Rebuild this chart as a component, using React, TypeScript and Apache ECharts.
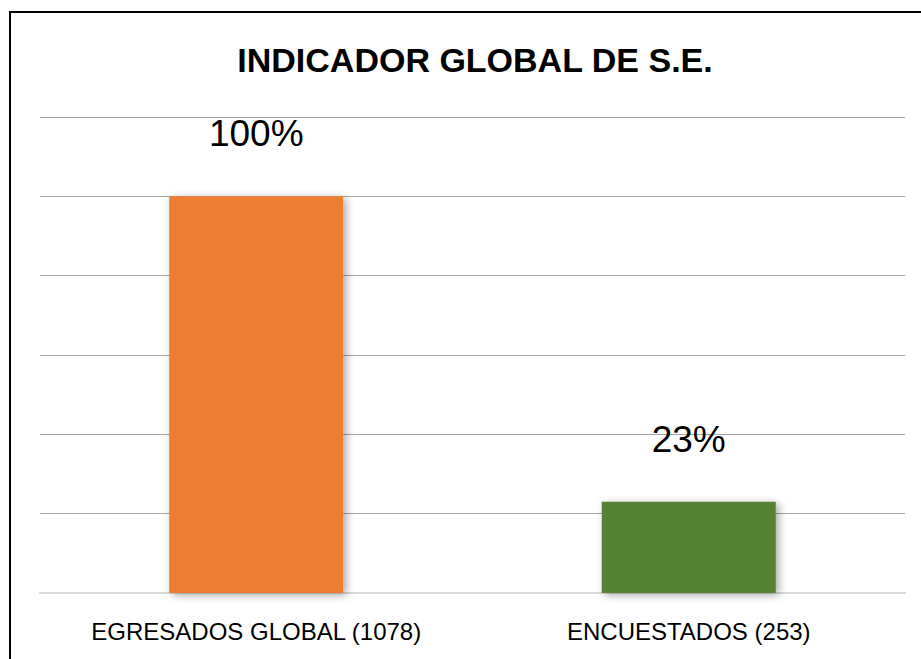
import React, { useEffect, useRef } from "react";
import * as echarts from "echarts";

const titleText = "INDICADOR GLOBAL DE S.E.";
const categories = ["EGRESADOS GLOBAL (1078)", "ENCUESTADOS (253)"];
const values = [1.0, 0.23];
const barColors = ["#ED7D31", "#548235"];
const yMin = 0;
const yMax = 1.2;
const yInterval = 0.2;

const FONT = "'Liberation Sans', Arial, sans-serif";

export default function App() {
  const ref = useRef<HTMLDivElement>(null);

  useEffect(() => {
    if (!ref.current) return;
    const chart = echarts.init(ref.current, null, { renderer: "svg" });
    chart.setOption({
      animation: false,
      backgroundColor: "#ffffff",
      title: {
        text: titleText,
        left: 470,
        top: 38,
        textAlign: "center",
        textStyle: {
          fontFamily: FONT,
          fontSize: 34,
          fontWeight: "bold",
          color: "#000000",
        },
      },
      graphic: [
        {
          type: "rect",
          shape: { x: 10, y: 12, width: 930, height: 670 },
          style: { fill: "none", stroke: "#000000", lineWidth: 2 },
          silent: true,
        },
      ],
      grid: { left: 40, right: 16, top: 117, bottom: 66 },
      xAxis: {
        type: "category",
        data: categories,
        axisTick: { show: false },
        axisLine: { show: true, lineStyle: { color: "#d9d9d9", width: 2 } },
        axisLabel: {
          margin: 26,
          fontFamily: FONT,
          fontSize: 24,
          color: "#000000",
        },
      },
      yAxis: {
        type: "value",
        min: yMin,
        max: yMax,
        interval: yInterval,
        axisLabel: { show: false },
        axisLine: { show: false },
        axisTick: { show: false },
        splitLine: { show: true, lineStyle: { color: "#a6a6a6", width: 1 } },
      },
      series: [
        {
          type: "bar",
          barWidth: 174,
          data: values.map((v, i) => ({
            value: v,
            itemStyle: {
              color: barColors[i],
              shadowBlur: 8,
              shadowColor: "rgba(0,0,0,0.35)",
              shadowOffsetX: 3,
              shadowOffsetY: 2,
            },
          })),
          label: {
            show: true,
            position: "top",
            distance: 44,
            fontFamily: FONT,
            fontSize: 37,
            color: "#000000",
            formatter: (p: any) => Math.round(p.value * 100) + "%",
          },
        },
      ],
    });
    return () => chart.dispose();
  }, []);

  return (
    <div
      ref={ref}
      style={{ position: "absolute", left: 0, top: 0, width: 921, height: 659 }}
    />
  );
}
